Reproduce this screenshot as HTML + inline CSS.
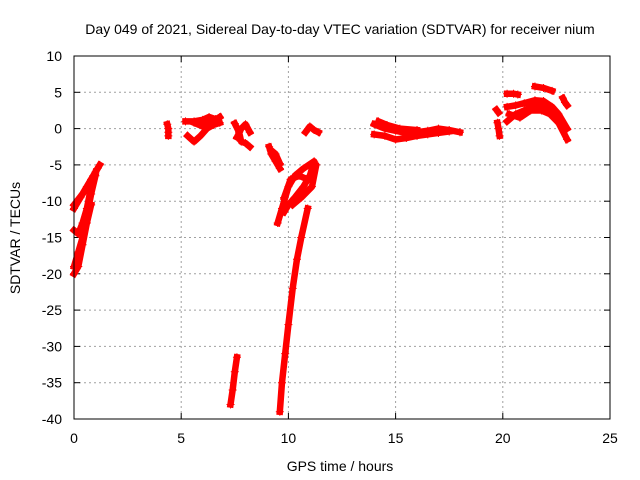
<!DOCTYPE html>
<html><head><meta charset="utf-8"><style>
html,body{margin:0;padding:0;background:#fff;}
svg{display:block;font-family:"Liberation Sans",sans-serif;}
</style></head><body>
<svg id="chart" width="640" height="480">
<rect width="640" height="480" fill="#fff"/>
<text x="340" y="34" font-size="14" text-anchor="middle">Day 049 of 2021, Sidereal Day-to-day VTEC variation (SDTVAR) for receiver nium</text>
<text x="340" y="471" font-size="14" text-anchor="middle">GPS time / hours</text>
<text transform="translate(20,238) rotate(-90)" font-size="14" text-anchor="middle">SDTVAR / TECUs</text>
<g id="grid"></g><g id="ticks"></g><g id="marks"></g>
<rect x="74" y="56" width="536" height="363" fill="none" stroke="#000" stroke-width="1"/>
</svg>
<script>
const xTicks=[0,5,10,15,20,25];
const yTicks=[10,5,0,-5,-10,-15,-20,-25,-30,-35,-40];
const tracks=[
[[0,-11],[0.3,-9.5],[0.6,-8],[0.9,-6.5],[1.2,-5]],
[[0,-10.5],[0.4,-9],[0.8,-7],[1.1,-5.5]],
[[0,-14],[0.2,-14.5],[0.4,-13],[0.6,-11],[0.8,-8],[1.0,-6]],
[[0,-19],[0.2,-17],[0.4,-15],[0.6,-12],[0.8,-9],[1.0,-6.5]],
[[0,-20],[0.2,-19],[0.4,-16],[0.6,-13],[0.8,-10.5]],
[[4.35,0.6],[4.4,0],[4.4,-0.5],[4.4,-1]],
[[5.2,1],[5.6,1],[6,1.2],[6.3,1.6],[6.6,1.3]],
[[5.3,-1],[5.6,-1.8],[5.9,-1],[6.2,0],[6.5,0.5],[6.8,0.8]],
[[5.6,0.8],[6,0.3],[6.4,0.9],[6.8,1.6]],
[[7.5,0.7],[7.7,-0.5],[7.8,-1.8],[8.0,-2],[8.2,-2.5]],
[[7.6,-1.2],[7.8,0],[8.0,0.6],[8.2,-0.5]],
[[7.3,-38],[7.4,-36],[7.5,-33.5],[7.6,-31.5]],
[[9.1,-2.5],[9.2,-3.5],[9.4,-4.5],[9.6,-5.5]],
[[9.2,-3],[9.4,-3.5],[9.6,-4.8]],
[[9.5,-13],[9.7,-11],[10,-8],[10.3,-6.5],[10.7,-5.5],[11.2,-4.5],[11.0,-6.5],[10.7,-8],[10.3,-9.5],[10.0,-10.5],[9.8,-11.5]],
[[9.8,-9.5],[10.1,-7],[10.5,-6.5],[10.9,-7],[11.3,-5],[11.1,-8],[10.6,-9.5],[10.2,-10.5]],
[[9.6,-39],[9.7,-35],[9.85,-31],[10.0,-27],[10.2,-22],[10.4,-18],[10.6,-15],[10.9,-11]],
[[10.8,-0.5],[11.0,0.3],[11.2,-0.2],[11.4,-0.5]],
[[14,0.6],[14.5,0],[15,-0.3],[15.5,-0.6],[16,-0.5],[16.5,-0.3],[17,0],[17.5,-0.2],[18,-0.5]],
[[14,-0.8],[14.5,-1],[15,-1.5],[15.5,-1.3],[16,-1],[16.5,-0.8],[17,-0.6],[17.5,-0.4]],
[[14.2,1],[14.6,0.5],[15.2,0],[16,-0.2]],
[[19.7,2.6],[19.8,2.2]],
[[19.75,0.8],[19.8,0],[19.85,-1]],
[[20.2,4.8],[20.5,4.8],[20.7,4.7]],
[[21.5,5.8],[21.9,5.6],[22.3,5.2]],
[[20.2,1],[20.6,2],[21,2.5],[21.5,3.3],[22,3],[22.3,2],[22.6,0.8],[23,-1.5]],
[[20.2,3],[20.6,3.2],[21,3.5],[21.5,3.9],[21.9,3.8],[22.3,3],[22.6,2],[23,0]],
[[20.3,2],[20.8,1.5],[21.3,2.5],[21.8,2.5],[22.2,2],[22.7,0.5]],
[[22.8,4.2],[22.9,3.6],[23,3.2]]
];
const svg=document.getElementById('chart');
const NS='http://www.w3.org/2000/svg';
const L=74,R=610,T=56,B=419;
const xs=v=>L+(v-0)/25*(R-L);
const ys=v=>T+(10-v)/50*(B-T);
function mk(tag,attrs,parent){const e=document.createElementNS(NS,tag);for(const k in attrs)e.setAttribute(k,attrs[k]);parent.appendChild(e);return e;}
const grid=document.getElementById('grid'),ticks=document.getElementById('ticks'),marks=document.getElementById('marks');
xTicks.forEach(t=>{
  const x=xs(t);
  if(t>0&&t<25){const g=mk('line',{x1:x,x2:x,y1:T,y2:B,stroke:'#a0a0a0','stroke-dasharray':'2,3'},grid);
  
  }
  mk('line',{x1:x,x2:x,y1:B,y2:B-6,stroke:'#000'},ticks);
  mk('line',{x1:x,x2:x,y1:T,y2:T+6,stroke:'#000'},ticks);
  const tx=mk('text',{x:x,y:B+24,'font-size':14,'text-anchor':'middle'},ticks);
  tx.textContent=t;
  
  
});
yTicks.forEach(t=>{
  const y=ys(t);
  if(t<10&&t>-40){const g=mk('line',{x1:L,x2:R,y1:y,y2:y,stroke:'#a0a0a0','stroke-dasharray':'2,3'},grid);
  
  }
  mk('line',{x1:L,x2:L+6,y1:y,y2:y,stroke:'#000'},ticks);
  mk('line',{x1:R,x2:R-6,y1:y,y2:y,stroke:'#000'},ticks);
  const tx=mk('text',{x:L-12,y:y+5,'font-size':14,'text-anchor':'end'},ticks);
  tx.textContent=t;
  
  
});
tracks.forEach(tr=>{
  const pl=mk('polyline',{points:tr.map(p=>xs(p[0])+','+ys(p[1])).join(' '),fill:'none',stroke:'#f00','stroke-width':6.5,'stroke-linejoin':'round','stroke-linecap':'square'},marks);
  
  
  tr.forEach(p=>{
    const x=xs(p[0]),y=ys(p[1]);
    const m=mk('path',{d:`M${x-4},${y}H${x+4}M${x},${y-4}V${y+4}`,stroke:'#f00','stroke-width':1},marks);
    
    
  });
});
</script>
</body></html>
